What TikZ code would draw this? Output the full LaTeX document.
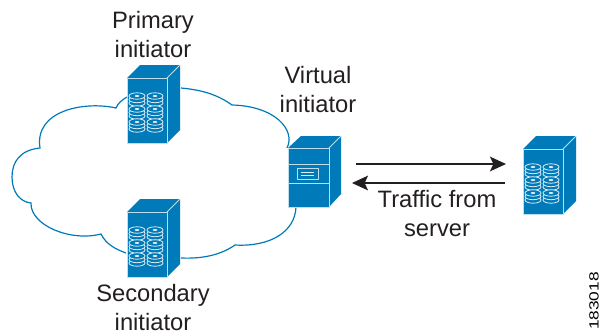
\documentclass[tikz,border=0pt]{standalone}
\usepackage{fontspec}
\setmainfont{Liberation Sans}
\usetikzlibrary{arrows.meta}
\definecolor{ciscoblue}{RGB}{0,122,184}
\definecolor{labelgray}{RGB}{35,31,32}
\tikzset{
	label/.style={font=\fontsize{17.8}{21}\selectfont, text=labelgray, inner sep=0pt, anchor=base},
	flow/.style={draw=labelgray, line width=1pt, -{Stealth[length=12pt,width=11pt,inset=2.5pt]}},
	cloudline/.style={draw=ciscoblue, line width=0.9pt},
	towerface/.style={fill=ciscoblue, draw=white!75!ciscoblue, line width=0.7pt, line join=round},
	diskline/.style={draw=white!85!ciscoblue, line width=0.6pt, fill=ciscoblue},
	% tower body, origin is the upper left corner of the front face
	towerbody/.pic={
		\fill[ciscoblue] (0,0) -- (13,-13) -- (53,-13) -- (53,52) -- (40,65) -- (0,65) -- cycle;
		\draw[towerface] (0,0) rectangle (40,65);
		\draw[towerface] (40,0) -- (53,-13);
	},
	diskstack/.pic={
		\foreach \ypos in {8,4.5,1}
			\draw[diskline] (0,\ypos) ellipse (8 and 3.2);
		\fill[white!85!ciscoblue] (0,1) ellipse (2.4 and 1);
	},
	disktower/.pic={
		\pic {towerbody};
		\foreach \xpos in {10,28}
			\foreach \ypos in {17,30,43}
				\pic at (\xpos,\ypos) {diskstack};
	}
}

\begin{document}
\begin{tikzpicture}[x=0.75pt, y=-0.75pt]
	\useasboundingbox (0,0) rectangle (600,333);

	% cloud
	\draw[cloudline] (127,97) .. controls (122,100) and (118,103) .. (116,108)
		.. controls (85,101) and (34,110) .. (40,148)
		.. controls (20,150) and (12,162) .. (12,177)
		.. controls (12,192) and (20,202) .. (31,203)
		.. controls (30,225) and (70,242) .. (101,234)
		.. controls (106,244) and (115,249) .. (126,253);
	\draw[cloudline] (181,258) .. controls (205,259) and (222,254) .. (235,245)
		.. controls (270,247) and (295,232) .. (296,207);
	\draw[cloudline] (287,148) .. controls (296,130) and (275,106) .. (232,105)
		.. controls (218,95) and (203,90) .. (181,88);

	% towers
	\pic (primary) at (127,78) {disktower};
	\pic (secondary) at (127,212) {disktower};
	\pic (server) at (523,149) {disktower};

	\fill[ciscoblue] (288,148) -- (301,136) -- (341,136) -- (341,194) -- (329,207) -- (288,207) -- cycle;
	\draw[towerface] (288,148) rectangle (329,207);
	\draw[towerface] (329,148) -- (341,136);
	\draw[towerface] (288,164) -- (329,164) (288,183) -- (329,183);
	\draw[towerface] (297,168) rectangle (318,179);
	\draw[draw=white!85!ciscoblue, line width=0.6pt] (301,172) -- (314,172) (301,175) -- (314,175);

	% labels
	\node[label] (primarytop) at (153,28) {Primary};
	\node[label] (primarybot) at (153,57) {initiator};
	\node[label] (virtualtop) at (318,83) {Virtual};
	\node[label] (virtualbot) at (318,112) {initiator};
	\node[label] (secondarytop) at (153,301) {Secondary};
	\node[label] (secondarybot) at (153,330) {initiator};
	\node[label] (traffictop) at (437,207) {Traffic from};
	\node[label] (trafficbot) at (437,236) {server};
	\node[rotate=90, xscale=1.3, font=\fontsize{10}{12}\selectfont, text=black, inner sep=0pt] (figno) at (594,301) {183018};

	% arrows
	\coordinate (outa) at (356,164);
	\coordinate (outb) at (506,164);
	\coordinate (backa) at (505,183);
	\coordinate (backb) at (352,183);
	\draw[flow] (outa) -- (outb);
	\draw[flow] (backa) -- (backb);
\end{tikzpicture}
\end{document}
